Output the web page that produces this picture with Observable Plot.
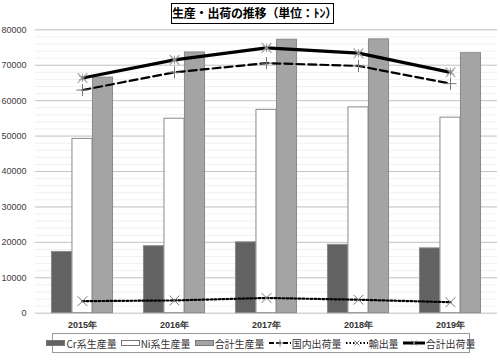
<!DOCTYPE html>
<html><head><meta charset="utf-8">
<script src="https://cdn.jsdelivr.net/npm/d3@7"></script>
<script src="https://cdn.jsdelivr.net/npm/@observablehq/plot@0.6"></script>
<style>
body{margin:0;background:#fff;}
#wrap{position:relative;width:500px;height:362px;overflow:hidden;font-family:"Noto Sans CJK JP","Noto Sans",sans-serif;}
#chart{position:absolute;left:0;top:0;}
#title{position:absolute;left:171px;top:3px;width:163px;height:21px;border:1.5px solid #000;box-sizing:border-box;text-align:center;font-weight:bold;font-size:12px;line-height:18px;color:#000;white-space:nowrap;letter-spacing:-0.2px;}
#legend{position:absolute;left:52px;top:333px;width:418px;height:20px;border:1px solid #999;box-sizing:border-box;display:flex;align-items:center;justify-content:center;font-size:10px;color:#333;white-space:nowrap;}
#legend span.item{display:inline-flex;align-items:center;margin:0 2px;}
#legend svg{margin-right:1px;}
</style></head>
<body>
<div id="wrap">
<div id="chart"></div>
<div id="title">生産・出荷の推移（単位：ﾄﾝ）</div>
<div id="legend"></div>
</div>
<script>
const years = ["2015年", "2016年", "2017年", "2018年", "2019年"];
const crProduction = [17300, 18900, 20000, 19300, 18300];
const niProduction = [49200, 54900, 57400, 58100, 55200];
const totalProduction = [66500, 73600, 77200, 77300, 73400];
const domesticShipments = [63000, 68000, 70600, 69800, 64800];
const exportShipments = [3400, 3600, 4300, 3800, 3100];
const totalShipments = [66400, 71500, 74900, 73400, 68000];
const yTicks = [0, 10000, 20000, 30000, 40000, 50000, 60000, 70000, 80000];
const seriesNames = ["Cr系生産量", "Ni系生産量", "合計生産量", "国内出荷量", "輸出量", "合計出荷量"];

const rows = years.map((year, i) => ({
  year, cr: crProduction[i], ni: niProduction[i], total: totalProduction[i],
  domestic: domesticShipments[i], exp: exportShipments[i], ship: totalShipments[i]
}));
const minorTicks = d3.range(0, 80001, 2000);

const barW = 20.5;
const inset = (462 / 5 - barW) / 2;
const barStroke = "#8a8a8a";

const chart = Plot.plot({
  width: 500,
  height: 362,
  marginTop: 29.3,
  marginBottom: 49.3,
  marginLeft: 35,
  marginRight: 3,
  x: {domain: years, padding: 0, label: null, tickSize: 0, tickPadding: 8},
  y: {domain: [0, 80000], ticks: yTicks, tickFormat: d3.format("d"), label: null, tickSize: 0, tickPadding: 9},
  style: {fontFamily: "'Liberation Sans', Arial, sans-serif", fontSize: "9px", color: "#404040", background: "transparent"},
  marks: [
    Plot.ruleY(minorTicks, {stroke: "#f0f0f0", strokeWidth: 1}),
    Plot.ruleY(yTicks, {stroke: "#c6c6c6", strokeWidth: 1}),
    Plot.barY(rows, {x: "year", y: "cr", fill: "#626262", stroke: barStroke, strokeWidth: 1, insetLeft: inset, insetRight: inset, dx: -barW}),
    Plot.barY(rows, {x: "year", y: "ni", fill: "#ffffff", stroke: barStroke, strokeWidth: 1, insetLeft: inset, insetRight: inset}),
    Plot.barY(rows, {x: "year", y: "total", fill: "#a4a4a4", stroke: barStroke, strokeWidth: 1, insetLeft: inset, insetRight: inset, dx: barW}),
    Plot.line(rows, {x: "year", y: "domestic", stroke: "#000", strokeWidth: 2.2, strokeDasharray: "8,4"}),
    Plot.line(rows, {x: "year", y: "exp", stroke: "#000", strokeWidth: 2.2, strokeDasharray: "1.8,2.2"}),
    Plot.line(rows, {x: "year", y: "ship", stroke: "#000", strokeWidth: 3.2}),
    Plot.dot(rows, {x: "year", y: "domestic", symbol: "plus", r: 4, stroke: "#777", strokeWidth: 1}),
    Plot.dot(rows, {x: "year", y: "exp", symbol: "times", r: 4.5, stroke: "#777", strokeWidth: 1}),
    Plot.dot(rows, {x: "year", y: "ship", symbol: "times", r: 4.5, stroke: "#aaa", strokeWidth: 1.2}),
    Plot.dot(rows, {x: "year", y: "ship", symbol: "asterisk", r: 4, stroke: "#888", strokeWidth: 0.8})
  ]
});
chart.querySelectorAll('g[aria-label="x-axis tick label"] text, g[aria-label="x-axis"] text').forEach(t => {
  t.setAttribute("font-weight", "bold");
  t.setAttribute("fill", "#333");
});
document.getElementById("chart").appendChild(chart);

// Legend
const sw = {
  rect: (fill) => `<svg width="19" height="8"><rect x="0.5" y="1.5" width="18" height="5" fill="${fill}" stroke="#777" stroke-width="1"/></svg>`,
  line: (dash, w, sym) => {
    let m = "";
    if (sym === "plus") m = `<path d="M11,1.5V8.5M7.5,5H14.5" stroke="#777" stroke-width="1"/>`;
    if (sym === "times") m = `<path d="M8.5,2.5L13.5,7.5M13.5,2.5L8.5,7.5" stroke="#777" stroke-width="1"/>`;
    return `<svg width="22" height="10"><line x1="0" y1="5" x2="22" y2="5" stroke="#000" stroke-width="${w}" ${dash ? `stroke-dasharray="${dash}"` : ""}/>${m}</svg>`;
  }
};
const legendItems = [
  [sw.rect("#626262"), seriesNames[0]],
  [sw.rect("#ffffff"), seriesNames[1]],
  [sw.rect("#a4a4a4"), seriesNames[2]],
  [sw.line("5,2", 2, "plus"), seriesNames[3]],
  [sw.line("1.5,2", 2, "times"), seriesNames[4]],
  [sw.line(null, 3, "times"), seriesNames[5]]
];
document.getElementById("legend").innerHTML = legendItems.map(([s, n]) => `<span class="item">${s}<span>${n}</span></span>`).join("");
</script>
</body></html>
